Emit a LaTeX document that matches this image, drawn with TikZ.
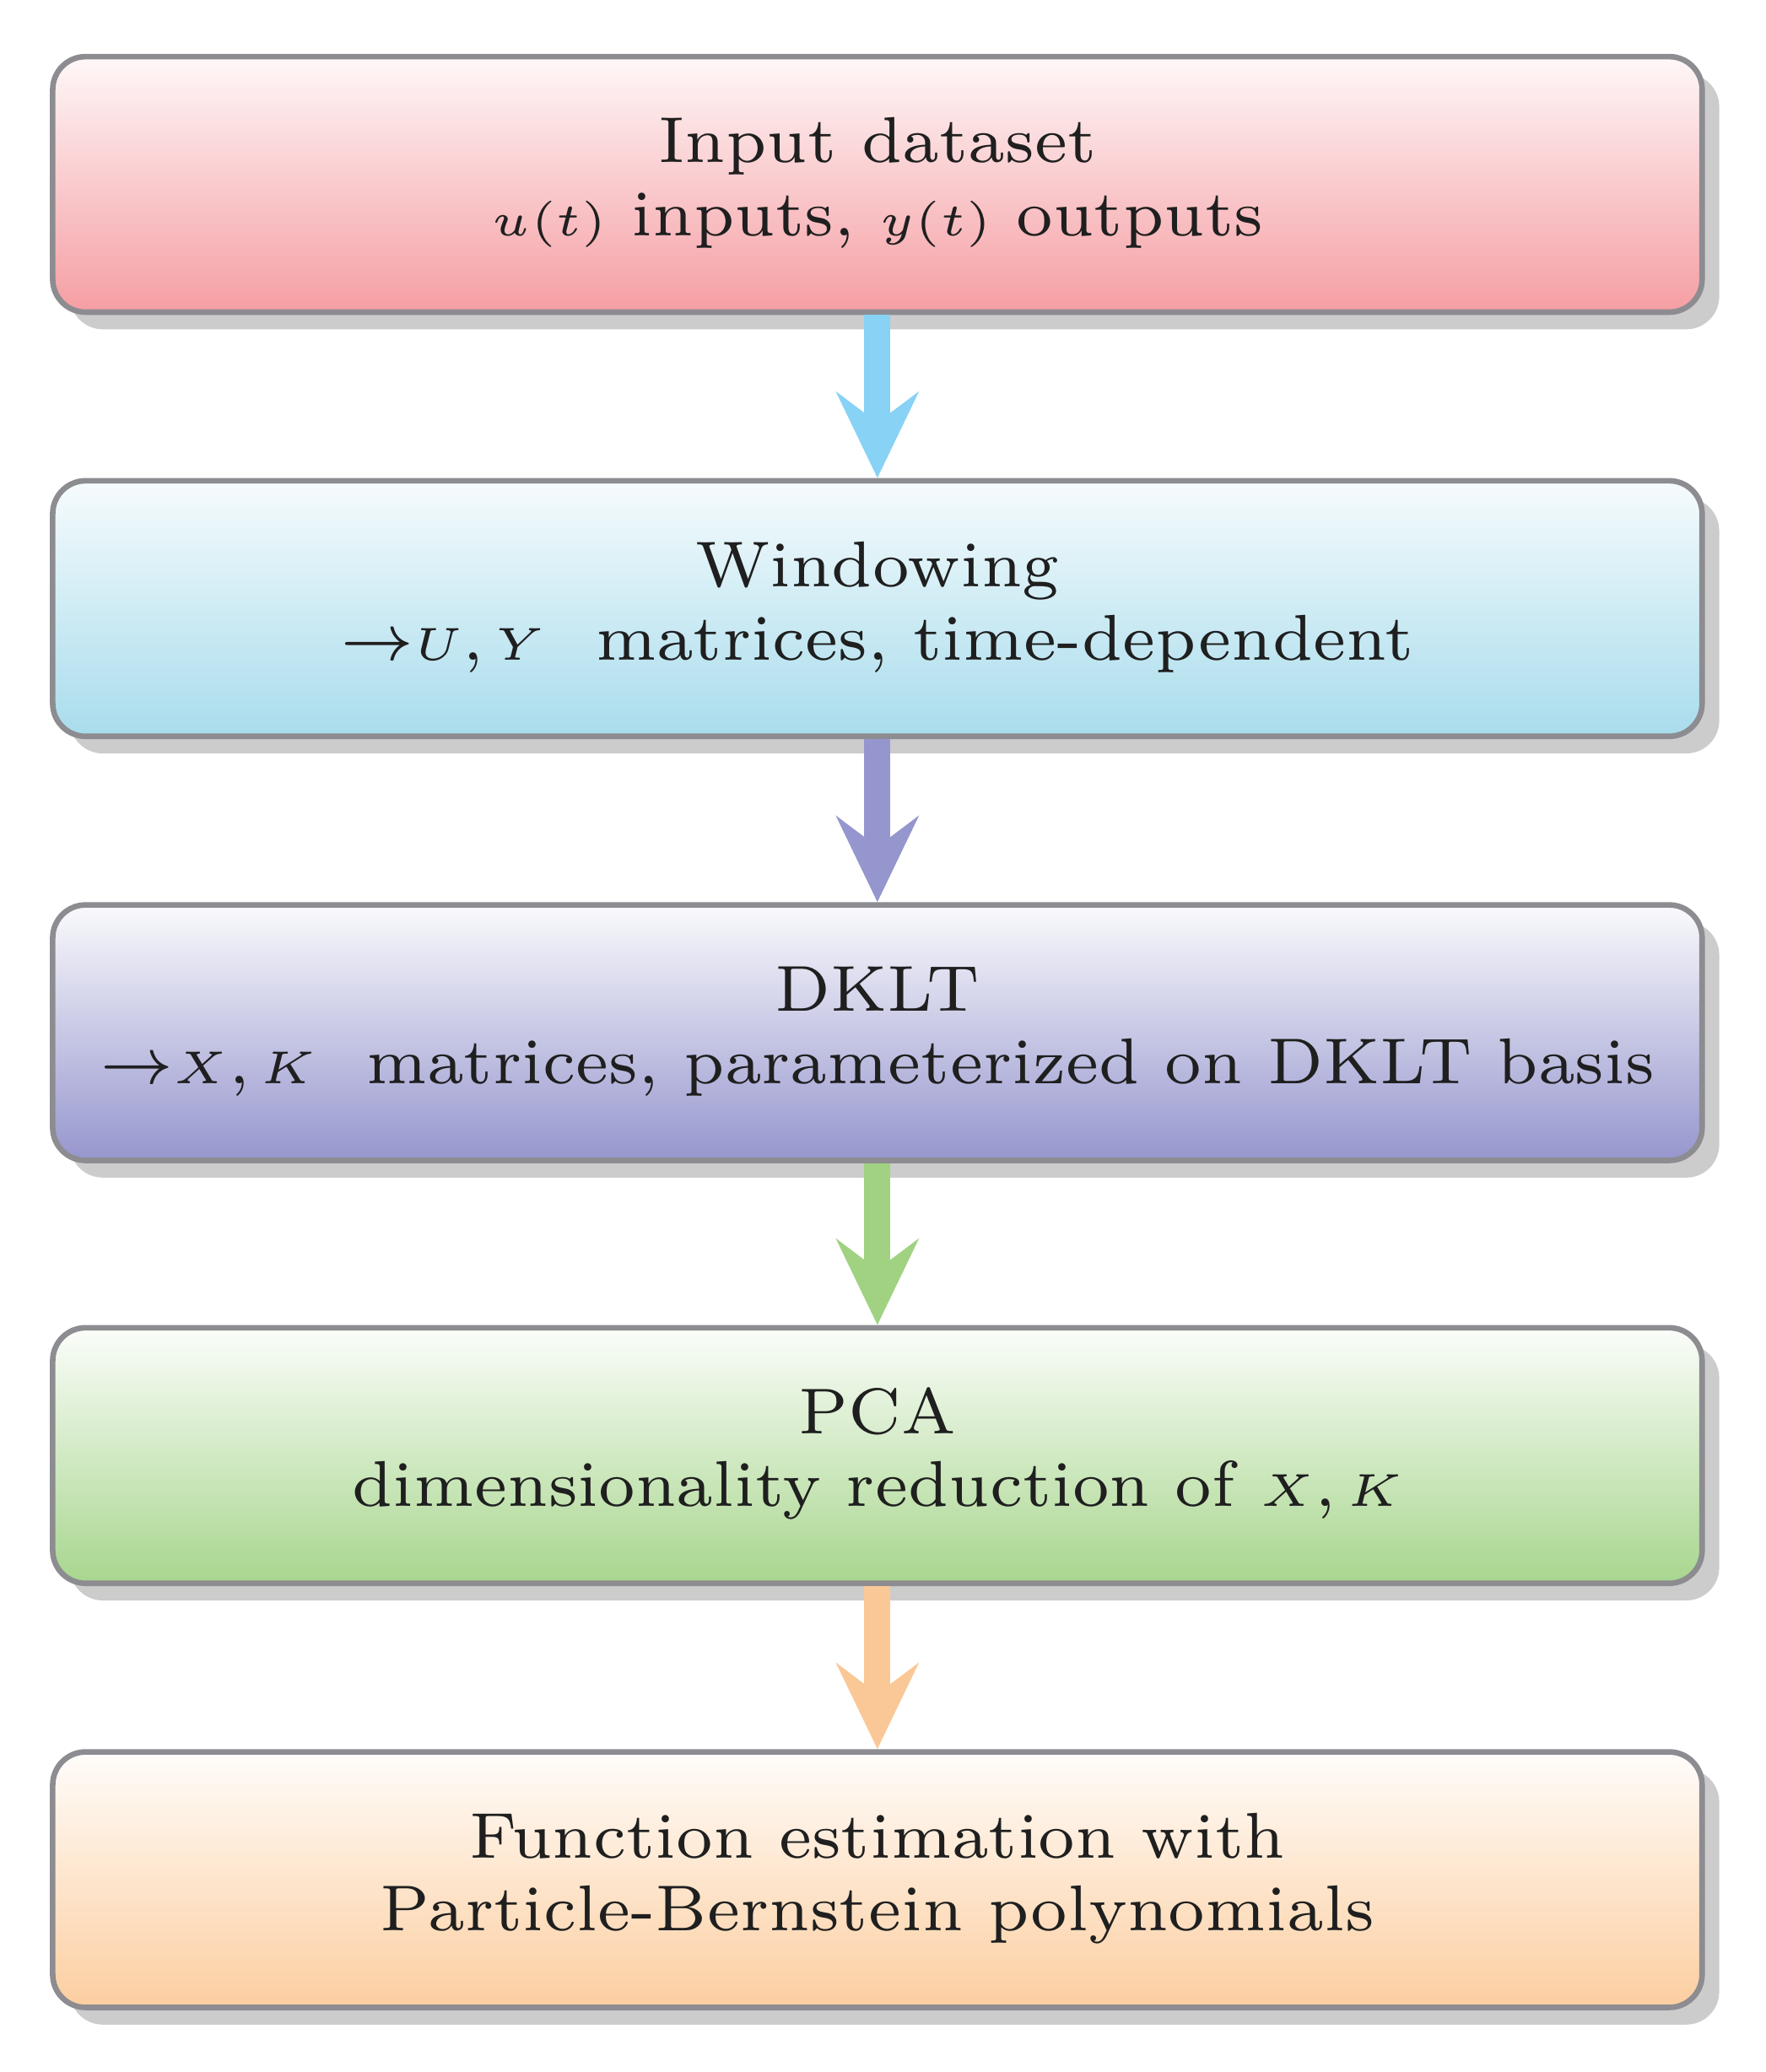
\documentclass[tikz,border=0pt]{standalone}
\usetikzlibrary{arrows.meta,shadows}
\definecolor{cR}{RGB}{245,158,163}
\definecolor{cB}{RGB}{168,220,236}
\definecolor{cP}{RGB}{150,150,206}
\definecolor{cG}{RGB}{168,214,142}
\definecolor{cO}{RGB}{252,206,160}
\definecolor{aB}{RGB}{135,210,245}
\definecolor{aP}{RGB}{150,150,206}
\definecolor{aG}{RGB}{160,210,130}
\definecolor{aO}{RGB}{250,200,150}
\definecolor{bd}{RGB}{140,140,145}
\begin{document}
\begin{tikzpicture}[x=1cm,y=1cm,
  box/.style={draw=bd,line width=1.2pt,rounded corners=0.25cm,minimum width=12.52cm,minimum height=1.94cm,
    align=center,text=black!88,
    drop shadow={shadow xshift=0.13cm,shadow yshift=-0.13cm,fill=black!20,opacity=1}},
  arr/.style={line width=2mm,-{Stealth[length=6.5mm,width=6.2mm,inset=2.3mm]}}]
\useasboundingbox (0,0) rectangle (13.4,15.73);
\newcommand{\tx}[1]{\scalebox{2}{\fontsize{7}{7.9}\selectfont\begin{tabular}{@{}c@{}}#1\end{tabular}}}
\newcommand{\mm}[1]{$\scriptstyle #1$}
\node[box,top color=cR!8,bottom color=cR] (a) at (6.66,14.33) {\tx{Input dataset\\ \mm{u(t)} inputs, \mm{y(t)} outputs}};
\node[box,top color=cB!10,bottom color=cB] (b) at (6.66,11.11) {\tx{Windowing\\ $\rightarrow$\mm{U},\,\mm{Y}\ \ matrices, time-dependent}};
\node[box,top color=cP!5,bottom color=cP] (c) at (6.66,7.89) {\tx{DKLT\\ $\rightarrow$\mm{X},\,\mm{K}\ \ matrices, parameterized on DKLT basis}};
\node[box,top color=cG!5,bottom color=cG] (d) at (6.66,4.68) {\tx{PCA\\ dimensionality reduction of \mm{X},\,\mm{K}}};
\node[box,top color=cO!5,bottom color=cO] (e) at (6.66,1.46) {\tx{Function estimation with\\ Particle-Bernstein polynomials}};
\draw[arr,aB] (a.south) -- (b.north);
\draw[arr,aP] (b.south) -- (c.north);
\draw[arr,aG] (c.south) -- (d.north);
\draw[arr,aO] (d.south) -- (e.north);
\end{tikzpicture}
\end{document}
